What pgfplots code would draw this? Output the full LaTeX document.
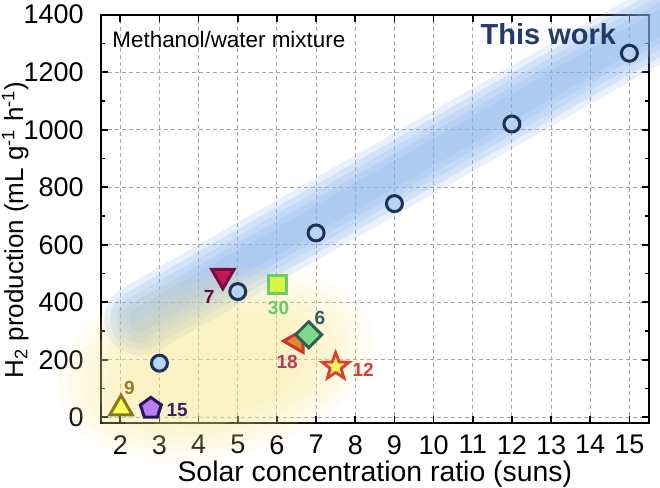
\documentclass[border=0pt]{standalone}
\usepackage{fontspec}
\setmainfont{Liberation Sans}
\usepackage{pgfplots}
\pgfplotsset{compat=1.18}
\usetikzlibrary{plotmarks}

\definecolor{navy}{HTML}{1C3257}
\definecolor{cfill}{HTML}{B8D3F3}
\definecolor{bandblue}{HTML}{86B2EA}
\definecolor{blobyel}{HTML}{F8E68E}
\definecolor{ninefill}{HTML}{FDFD60}
\definecolor{nineedge}{HTML}{8A7A1C}
\definecolor{ninelab}{HTML}{9A7B22}
\definecolor{pentfill}{HTML}{B87EF0}
\definecolor{pentedge}{HTML}{2E1060}
\definecolor{pentlab}{HTML}{3A1D6B}
\definecolor{sevfill}{HTML}{C2185B}
\definecolor{sevedge}{HTML}{7B0C3D}
\definecolor{sevlab}{HTML}{5E1030}
\definecolor{thirfill}{HTML}{D7F542}
\definecolor{thiredge}{HTML}{66CC6E}
\definecolor{eigfill}{HTML}{E0882C}
\definecolor{eigedge}{HTML}{C9362F}
\definecolor{eiglab}{HTML}{B73A5C}
\definecolor{sixfill}{HTML}{7FD98A}
\definecolor{sixedge}{HTML}{2E5E56}
\definecolor{twfill}{HTML}{FFF35A}
\definecolor{twedge}{HTML}{E23A34}
\definecolor{thiswork}{HTML}{233A6A}

\pgfdeclareplotmark{fstar}{%
  \pgfpathmoveto{\pgfpointpolar{90}{\pgfplotmarksize}}%
  \pgfpathlineto{\pgfpointpolar{126}{0.42\pgfplotmarksize}}%
  \pgfpathlineto{\pgfpointpolar{162}{\pgfplotmarksize}}%
  \pgfpathlineto{\pgfpointpolar{198}{0.42\pgfplotmarksize}}%
  \pgfpathlineto{\pgfpointpolar{234}{\pgfplotmarksize}}%
  \pgfpathlineto{\pgfpointpolar{270}{0.42\pgfplotmarksize}}%
  \pgfpathlineto{\pgfpointpolar{306}{\pgfplotmarksize}}%
  \pgfpathlineto{\pgfpointpolar{342}{0.42\pgfplotmarksize}}%
  \pgfpathlineto{\pgfpointpolar{18}{\pgfplotmarksize}}%
  \pgfpathlineto{\pgfpointpolar{54}{0.42\pgfplotmarksize}}%
  \pgfpathclose
  \pgfusepathqfillstroke}

\tikzset{
  band/.style={bandblue, line cap=round, opacity=0.2},
  blob/.style={blobyel, opacity=0.11, rotate around={12:(axis cs:4.42,185)}},
}

\begin{document}
\begin{tikzpicture}
\begin{axis}[
  scale only axis, width=274.15pt, height=204.15pt,
  xmin=1.5, xmax=15.5, ymin=-20, ymax=1400,
  xtick={2,...,15}, ytick={0,200,...,1400}, minor ytick={100,300,...,1300},
  tick align=inside, major tick length=3.5pt, minor tick length=2pt,
  xmajorgrids, ymajorgrids,
  major grid style={dash pattern=on 2pt off 1.5pt, black!35, line width=0.5pt},
  axis line style={line width=1pt},
  every tick/.style={black, line width=0.8pt},
  /pgf/number format/assume math mode=true,
  /pgf/number format/1000 sep={},
  tick label style={font=\fontsize{13.5}{16}\selectfont},
  xticklabel style={inner sep=0pt, anchor=north, yshift=-6pt},
  yticklabel style={inner sep=0pt, anchor=east, xshift=-8.3pt},
  xlabel={Solar concentration ratio (suns)},
  ylabel={H\textsubscript{2} production (mL g\textsuperscript{-1} h\textsuperscript{-1})},
  xlabel style={font=\fontsize{14.2}{16}\selectfont, at={(axis description cs:0.5,-0.1438)}, anchor=base, inner sep=0pt},
  ylabel style={font=\fontsize{13}{16}\selectfont, at={(axis description cs:-0.1417,0.4727)}, anchor=base, inner sep=0pt},
  clip=false,
]
% blue band
\draw[band, line width=36pt] (axis cs:2.51,340) -- (axis cs:16.55,1432);
\draw[band, line width=30pt] (axis cs:2.51,340) -- (axis cs:16.55,1432);
\draw[band, line width=24pt] (axis cs:2.51,340) -- (axis cs:16.55,1432);
\draw[band, line width=18pt] (axis cs:2.51,340) -- (axis cs:16.55,1432);
\draw[band, line width=12pt] (axis cs:2.51,340) -- (axis cs:16.55,1432);
% yellow blob
\fill[blob] (axis cs:4.42,185) ellipse [x radius=80pt, y radius=46pt];
\fill[blob] (axis cs:4.42,185) ellipse [x radius=74pt, y radius=42pt];
\fill[blob] (axis cs:4.42,185) ellipse [x radius=68pt, y radius=38pt];
\fill[blob] (axis cs:4.42,185) ellipse [x radius=61pt, y radius=34pt];
\fill[blob] (axis cs:4.42,185) ellipse [x radius=54pt, y radius=30pt];
\fill[blob] (axis cs:4.42,185) ellipse [x radius=46pt, y radius=26pt];
% This work
\addplot[only marks, mark=*, mark size=4pt, mark options={fill=cfill, draw=navy, line width=1.5pt}]
  coordinates {(3,188) (5,437) (7,641) (9,743) (12,1020) (15,1266)};
% 9
\addplot[only marks, mark=triangle*, mark size=6.5pt, mark options={fill=ninefill, draw=nineedge, line width=1.5pt}]
  coordinates {(2.02,31)};
% 15
\addplot[only marks, mark=pentagon*, mark size=5.5pt, mark options={fill=pentfill, draw=pentedge, line width=1.5pt}]
  coordinates {(2.78,31)};
% 7
\addplot[only marks, mark=triangle*, mark size=6.5pt, mark options={rotate=180, fill=sevfill, draw=sevedge, line width=1.5pt}]
  coordinates {(4.62,492)};
% 30
\addplot[only marks, mark=square*, mark size=4.5pt, mark options={fill=thirfill, draw=thiredge, line width=1.5pt}]
  coordinates {(6.02,463)};
% 18
\addplot[only marks, mark=triangle*, mark size=6.5pt, mark options={rotate=90, fill=eigfill, draw=eigedge, line width=1.5pt}]
  coordinates {(6.5,265)};
% 6
\addplot[only marks, mark=square*, mark size=4.6pt, mark options={rotate=45, fill=sixfill, draw=sixedge, line width=1.5pt}]
  coordinates {(6.81,287)};
% 12
\addplot[only marks, mark=fstar, mark size=7pt, mark options={fill=twfill, draw=twedge, line width=1.4pt}]
  coordinates {(7.5,176)};
% labels
\begin{scope}[every node/.style={font=\fontsize{9.5}{11}\bfseries\selectfont, inner sep=0pt}]
\node[text=ninelab] at (axis cs:2.23,101) {9};
\node[text=pentlab] at (axis cs:3.45,25) {15};
\node[text=sevlab] at (axis cs:4.27,420) {7};
\node[text=thiredge] at (axis cs:6.04,381) {30};
\node[text=sixedge] at (axis cs:7.1,346) {6};
\node[text=eiglab] at (axis cs:6.26,192) {18};
\node[text=twedge] at (axis cs:8.2,165) {12};
\end{scope}
\node[anchor=base west, inner sep=0pt, font=\fontsize{11.2}{13}\selectfont] at (axis cs:1.79,1287) {Methanol/water mixture};
\node[anchor=base west, inner sep=0pt, text=thiswork, font=\fontsize{14.5}{17}\bfseries\selectfont] at (axis cs:11.19,1298) {This work};
\end{axis}
\pgfresetboundingbox
\path ([shift={(-50.35pt,-32.5pt)}]current axis.south west) rectangle ([shift={(5.5pt,7.35pt)}]current axis.north east);
\end{tikzpicture}
\end{document}
